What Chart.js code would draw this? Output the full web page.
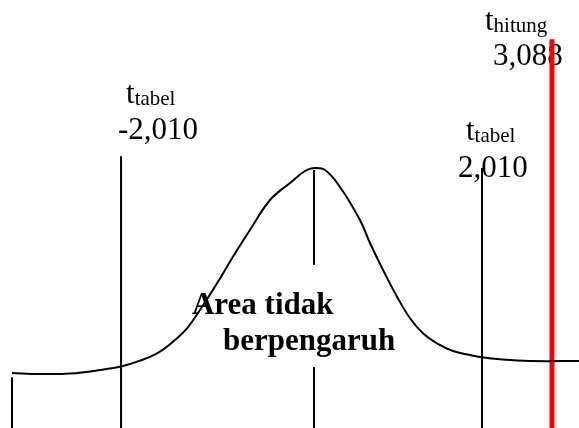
<!DOCTYPE html>
<html>
<head>
<meta charset="utf-8">
<script src="https://cdn.jsdelivr.net/npm/chart.js@4"></script>
<style>
  body { margin: 0; background: #fff; }
  #wrap { width: 579px; height: 428px; }
</style>
</head>
<body>
<div id="wrap"><canvas id="grafico"></canvas></div>
<script>
// kurva distribusi t
const kurvaX = [-3.146, -2.854, -2.542, -2.229, -1.990, -1.813, -1.635, -1.469, -1.323, -1.188, -1.010, -0.844, -0.667, -0.458, -0.250, -0.094, 0, 0.115, 0.271, 0.479, 0.583, 0.719, 0.865, 1.000, 1.135, 1.281, 1.448, 1.625, 1.750, 1.938, 2.250, 2.760];
const kurvaY = [0.0846, 0.0831, 0.0838, 0.0892, 0.0954, 0.1036, 0.1149, 0.1328, 0.1534, 0.1815, 0.2226, 0.2636, 0.3046, 0.3508, 0.3769, 0.3954, 0.400, 0.3969, 0.3708, 0.320, 0.2846, 0.2431, 0.2020, 0.1688, 0.1457, 0.1303, 0.1185, 0.1123, 0.1088, 0.1057, 0.1031, 0.1031];

// garis vertikal: posisi, bawah, atas
const garisX = [-3.146, -2.010, 0, 0, 1.750];
const garisBawah = [0, 0, 0, 0.251, 0];
const garisAtas = [0.078, 0.418, 0.094, 0.397, 0.400];

// garis t hitung (merah)
const hitungX = 2.479;
const hitungAtas = 0.598;

// teks label
const labelUtama = ["t", "t", "t"];
const labelSub = ["tabel", "tabel", "hitung"];
const labelNilai = ["-2,010", "2,010", "3,088"];
const teksArea = ["Area tidak", "berpengaruh"];

// posisi teks (satuan sumbu)
const posLabel = [
  { x: -1.958, y: 0.500, nx: -2.042, ny: 0.4446 },
  { x: 1.583, y: 0.443, nx: 1.500, ny: 0.386 },
  { x: 1.781, y: 0.612, nx: 1.865, ny: 0.558 }
];
const posArea = [{ x: -1.271, y: 0.175 }, { x: -0.948, y: 0.120 }];

const datasets = [];
datasets.push({
  data: kurvaX.map((x, i) => ({ x, y: kurvaY[i] })),
  borderColor: "#000",
  borderWidth: 2,
  pointRadius: 0,
  tension: 0.4
});
garisX.forEach((x, i) => {
  datasets.push({
    data: [{ x, y: garisBawah[i] }, { x, y: garisAtas[i] }],
    borderColor: "#000",
    borderWidth: 2,
    pointRadius: 0
  });
});
datasets.push({
  data: [{ x: hitungX, y: 0 }, { x: hitungX, y: hitungAtas }],
  borderColor: "#ff0000",
  borderWidth: 5,
  pointRadius: 0
});

// plugin untuk menulis teks
const teksPlugin = {
  id: "teks",
  beforeDatasetsDraw(chart) {
    const c = chart.ctx;
    const sx = chart.scales.x, sy = chart.scales.y;
    c.save();
    c.fillStyle = "#000";
    c.textBaseline = "alphabetic";
    c.textAlign = "left";
    labelUtama.forEach((t, i) => {
      const p = posLabel[i];
      const x = sx.getPixelForValue(p.x), y = sy.getPixelForValue(p.y);
      c.font = "31px 'Liberation Serif'";
      c.fillText(t, x, y);
      const w = c.measureText(t).width;
      c.font = "21px 'Liberation Serif'";
      c.fillText(labelSub[i], x + w, y + 2);
      c.font = "31px 'Liberation Serif'";
      c.fillText(labelNilai[i], sx.getPixelForValue(p.nx), sy.getPixelForValue(p.ny));
    });
    c.font = "bold 31px 'Liberation Serif'";
    teksArea.forEach((t, i) => {
      c.fillText(t, sx.getPixelForValue(posArea[i].x), sy.getPixelForValue(posArea[i].y));
    });
    c.restore();
  }
};

new Chart(document.getElementById("grafico"), {
  type: "line",
  data: { datasets },
  options: {
    responsive: true,
    maintainAspectRatio: false,
    animation: false,
    layout: { padding: 0 },
    plugins: { legend: { display: false }, tooltip: { enabled: false } },
    scales: {
      x: { type: "linear", min: -3.2708, max: 2.7604, display: false },
      y: { type: "linear", min: 0, max: 0.6585, display: false }
    }
  },
  plugins: [teksPlugin]
});
</script>
</body>
</html>
